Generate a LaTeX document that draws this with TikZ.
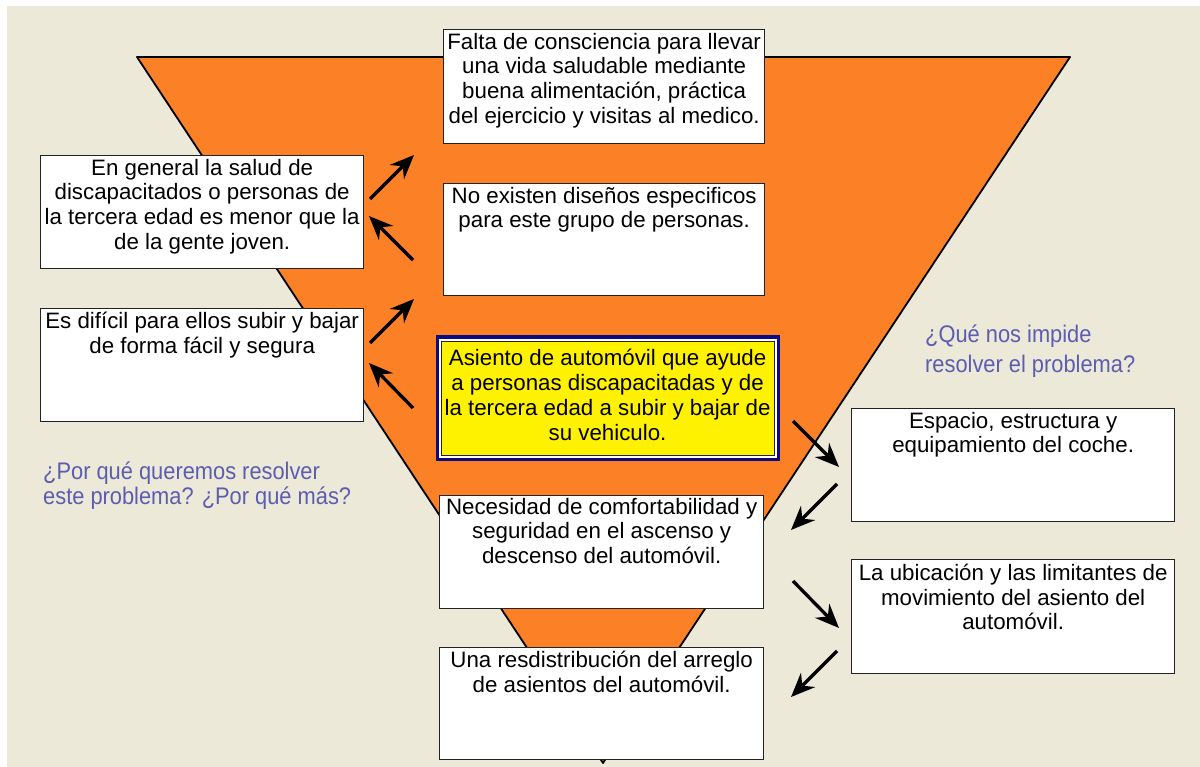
\documentclass[tikz,border=0pt]{standalone}
\usepackage{fontspec}
\setmainfont{Liberation Sans}
\newfontfamily\qfont[FakeStretch=0.91]{Liberation Sans}
\usetikzlibrary{arrows.meta}
\definecolor{bgc}{RGB}{236,233,216}
\definecolor{orangec}{RGB}{252,128,38}
\definecolor{bluetxt}{RGB}{92,92,176}
\definecolor{navyc}{RGB}{10,10,130}
\definecolor{yellowc}{RGB}{255,242,0}
\definecolor{edgec}{RGB}{35,35,35}
\begin{document}
\begin{tikzpicture}[x=1pt,y=-1pt,
  box/.style={draw=edgec, line width=1.3pt, fill=white, inner sep=0pt, anchor=north west},
  txt/.style={anchor=north, align=center, inner sep=0pt, font=\fontsize{22.3}{24.6}\selectfont, execute at begin node={\rule{0pt}{18pt}}},
  bluetext/.style={anchor=north west, align=left, inner sep=0pt, text=bluetxt, execute at begin node={\rule{0pt}{18pt}}},
  arr/.style={line width=3.3pt, draw=black, -{Stealth[length=24pt,width=20pt,inset=8pt]}}]
% background
\fill[white] (0,0) rectangle (1200,767);
\fill[bgc] (7,6) rectangle (1200,767);
\useasboundingbox (0,0) rectangle (1200,767);
% funnel
\coordinate (tl) at (137,57);
\coordinate (tr) at (1070,57);
\coordinate (ap) at (603,763);
\filldraw[fill=orangec, draw=black, line width=1.8pt, line join=round] (tl) -- (tr) -- (ap) -- cycle;
% central boxes
\node[box, minimum width=321pt, minimum height=114pt] (b1) at (443,29) {};
\node[txt] (t1) at ([yshift=-4pt]b1.north) {Falta de consciencia para llevar\\una vida saludable mediante\\buena alimentación, práctica\\del ejercicio y visitas al medico.};
\node[box, minimum width=321pt, minimum height=112pt] (b2) at (443,183) {};
\node[txt] (t2) at ([yshift=-4pt]b2.north) {No existen diseños especificos\\para este grupo de personas.};
% yellow box
\node[draw=navyc, line width=3.2pt, fill=white, inner sep=0pt, anchor=north west, minimum width=341pt, minimum height=122pt] (yo) at (435.5,335.5) {};
\node[draw=edgec, line width=1pt, fill=yellowc, inner sep=0pt, minimum width=333pt, minimum height=114pt] (yi) at (yo.center) {};
\node[txt, font=\fontsize{22.3}{25}\selectfont] (ty) at ([yshift=-8pt]yi.north) {Asiento de automóvil que ayude\\a personas discapacitadas y de\\la tercera edad a subir y bajar de\\su vehiculo.};
\node[box, minimum width=324pt, minimum height=113pt] (b4) at (439,495) {};
\node[txt] (t4) at ([yshift=-3pt]b4.north) {Necesidad de comfortabilidad y\\seguridad en el ascenso y\\descenso del automóvil.};
\node[box, minimum width=324pt, minimum height=112pt] (b5) at (439,647) {};
\node[txt] (t5) at ([yshift=-4pt]b5.north) {Una resdistribución del arreglo\\de asientos del automóvil.};
% left boxes
\node[box, minimum width=323pt, minimum height=113pt] (l1) at (40,155) {};
\node[txt] (tl1) at ([yshift=-4pt]l1.north) {En general la salud de\\discapacitados o personas de\\la tercera edad es menor que la\\de la gente joven.};
\node[box, minimum width=323pt, minimum height=113pt] (l2) at (40,308) {};
\node[txt] (tl2) at ([yshift=-4pt]l2.north) {Es difícil para ellos subir y bajar\\de forma fácil y segura};
% right boxes
\node[box, minimum width=323pt, minimum height=113pt] (r1) at (851,408) {};
\node[txt] (tr1) at ([yshift=-4pt]r1.north) {Espacio, estructura y\\equipamiento del coche.};
\node[box, minimum width=323pt, minimum height=114pt] (r2) at (851,559) {};
\node[txt] (tr2) at ([yshift=-5pt]r2.north) {La ubicación y las limitantes de\\movimiento del asiento del\\automóvil.};
% blue questions
\node[bluetext, font=\qfont\fontsize{24}{25}\selectfont] (q1) at (43,462) {¿Por qué queremos resolver\\este problema? ¿Por qué más?};
\node[bluetext, font=\qfont\fontsize{24}{30}\selectfont] (q2) at (925,325) {¿Qué nos impide\\resolver el problema?};
% arrows
\coordinate (a1s) at (370,199); \coordinate (a1e) at (414,155);
\coordinate (a2s) at (413,260); \coordinate (a2e) at (369,216);
\coordinate (a3s) at (370,343); \coordinate (a3e) at (414,299);
\coordinate (a4s) at (413,408); \coordinate (a4e) at (369,363);
\coordinate (a5s) at (793,421); \coordinate (a5e) at (839,467);
\coordinate (a6s) at (837,484); \coordinate (a6e) at (791,530);
\coordinate (a7s) at (793,581); \coordinate (a7e) at (839,628);
\coordinate (a8s) at (837,651); \coordinate (a8e) at (791,697);
\foreach \i in {1,...,8} { \draw[arr] (a\i s) -- (a\i e); }
\end{tikzpicture}
\end{document}
